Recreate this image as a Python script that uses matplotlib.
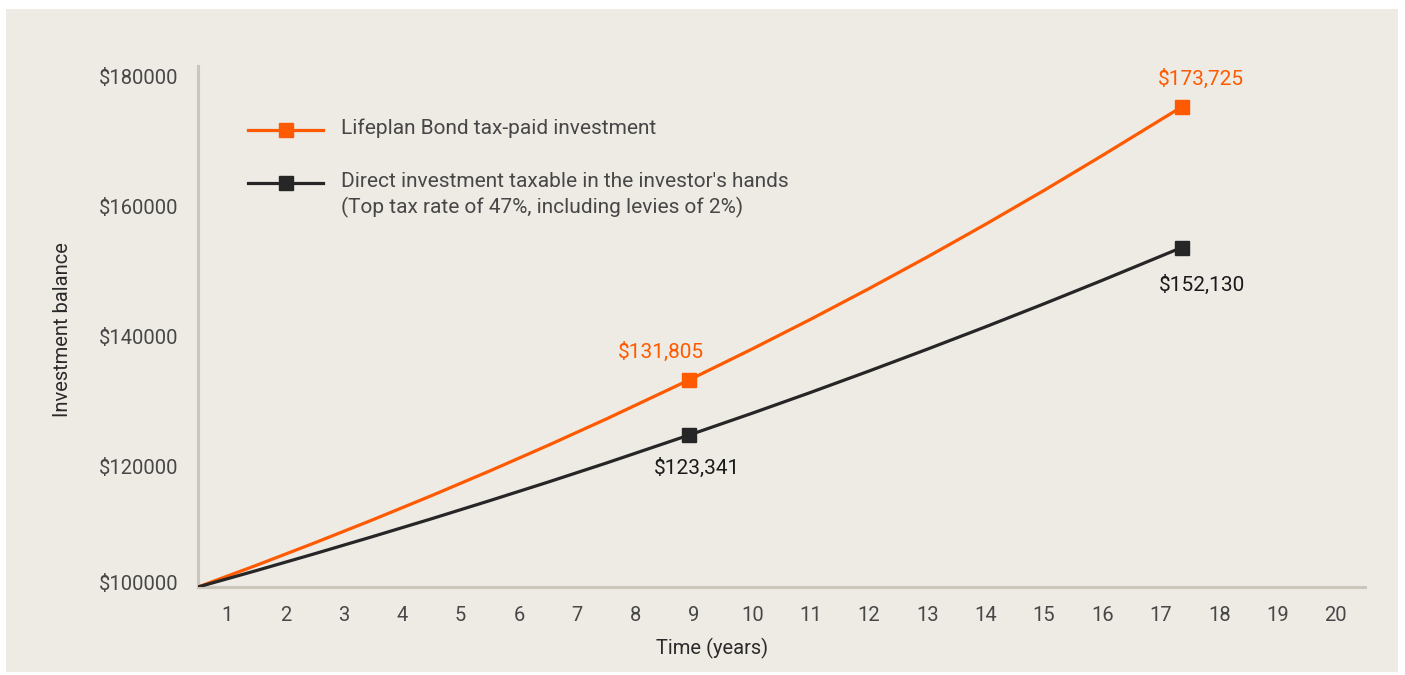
import matplotlib
matplotlib.use('Agg')
import matplotlib.pyplot as plt
from matplotlib.patches import Rectangle
from matplotlib.lines import Line2D
from matplotlib.transforms import ScaledTranslation, blended_transform_factory

plt.rcParams['font.family'] = ['Roboto', 'DejaVu Sans']

# values (x in year-axis units, y in $)
years = [0.5, 1.5, 2.5, 3.5, 4.5, 5.5, 6.5, 7.5, 8.92,
         10.0, 11.0, 12.0, 13.0, 14.0, 15.0, 16.0, 17.36]
bond = [100000, 103330, 106780, 110340, 114020, 117820, 121750, 125810, 131805,
        136560, 141110, 145820, 150680, 155710, 160900, 166270, 173725]
direct = [100000, 102520, 105110, 107760, 110470, 113260, 116110, 119040, 123341,
          126690, 129880, 133160, 136520, 139960, 143490, 147100, 152130]
marker_idx = [8, 16]

yticks = [100000, 120000, 140000, 160000, 180000]
xticks = list(range(1, 21))

ORANGE = '#FF5A00'
DARK = '#262626'
BG = '#EEEAE4'
SPINE = '#CBC6BB'
TXT = '#474747'
FS = 14.5

fig = plt.figure(figsize=(14.05, 6.75), dpi=100)
fig.patch.set_facecolor('white')
fig.patches.append(Rectangle((6 / 1405, 1 - 672 / 675), 1392 / 1405, 663 / 675,
                             transform=fig.transFigure, facecolor=BG, edgecolor='none', zorder=-5))

ax = fig.add_axes([198 / 1405, 1 - 587 / 675, 1167 / 1405, 521 / 675])
ax.set_facecolor('none')
ax.set_xlim(0.5, 20.5)
ax.set_ylim(100000, 180000)

ax.plot(years, bond, color=ORANGE, lw=2.3, zorder=3, solid_capstyle='butt')
ax.plot(years, direct, color=DARK, lw=2.3, zorder=3, solid_capstyle='butt')
ax.plot([years[i] for i in marker_idx], [bond[i] for i in marker_idx], 's',
        color=ORANGE, ms=10.5, zorder=4)
ax.plot([years[i] for i in marker_idx], [direct[i] for i in marker_idx], 's',
        color=DARK, ms=10.5, zorder=4)

# value labels
pt = lambda dx, dy: ScaledTranslation(dx / 100, dy / 100, fig.dpi_scale_trans)
i0, i1 = marker_idx
ax.text(years[i0], bond[i0], f"${bond[i0]:,}", color=ORANGE, fontsize=15,
        ha='center', va='center', transform=ax.transData + pt(-28, 28))
ax.text(years[i1], bond[i1], f"${bond[i1]:,}", color=ORANGE, fontsize=15,
        ha='center', va='center', transform=ax.transData + pt(19, 28))
ax.text(years[i0], direct[i0], f"${direct[i0]:,}", color='#1a1a1a', fontsize=15,
        ha='center', va='center', transform=ax.transData + pt(8, -33))
ax.text(years[i1], direct[i1], f"${direct[i1]:,}", color='#1a1a1a', fontsize=15,
        ha='center', va='center', transform=ax.transData + pt(20, -37))

# spines / ticks
for sp in ['top', 'right']:
    ax.spines[sp].set_visible(False)
for sp in ['left', 'bottom']:
    ax.spines[sp].set_color(SPINE)
    ax.spines[sp].set_linewidth(2.2)
ax.set_xticks(xticks)
ax.tick_params(axis='x', length=0, pad=14, labelsize=FS, labelcolor=TXT)
ax.set_yticks([])

# y labels sit a little below their gridline in the reference
ytr = blended_transform_factory(ax.transAxes, ax.transData)
for v in yticks:
    dy = 3 if v == yticks[0] else -12
    ax.text(0, v, f"${v}", ha='right', va='center', fontsize=FS, color=TXT,
            transform=ytr + pt(-20, dy))

fig.text(63 / 1405, 1 - 330 / 675, 'Investment balance', rotation=90, ha='center',
         va='center', fontsize=FS, color='#2a2a2a')
fig.text(712 / 1405, 1 - 648 / 675, 'Time (years)', ha='center', va='center',
         fontsize=FS, color='#2a2a2a')

# legend drawn by hand
for y0, col in [(130, ORANGE), (183, DARK)]:
    yy = 1 - y0 / 675
    fig.lines.append(Line2D([248 / 1405, 323 / 1405], [yy, yy], color=col, lw=2.3,
                            transform=fig.transFigure))
    fig.lines.append(Line2D([286 / 1405], [yy], marker='s', ms=10.5, color=col,
                            transform=fig.transFigure))
fig.text(341 / 1405, 1 - 128 / 675, 'Lifeplan Bond tax-paid investment', ha='left',
         va='center', fontsize=15, color=TXT)
fig.text(341 / 1405, 1 - 195 / 675,
         "Direct investment taxable in the investor's hands\n(Top tax rate of 47%, including levies of 2%)",
         ha='left', va='center', fontsize=15, color=TXT, linespacing=1.4)

fig.savefig('out.png', dpi=100)
